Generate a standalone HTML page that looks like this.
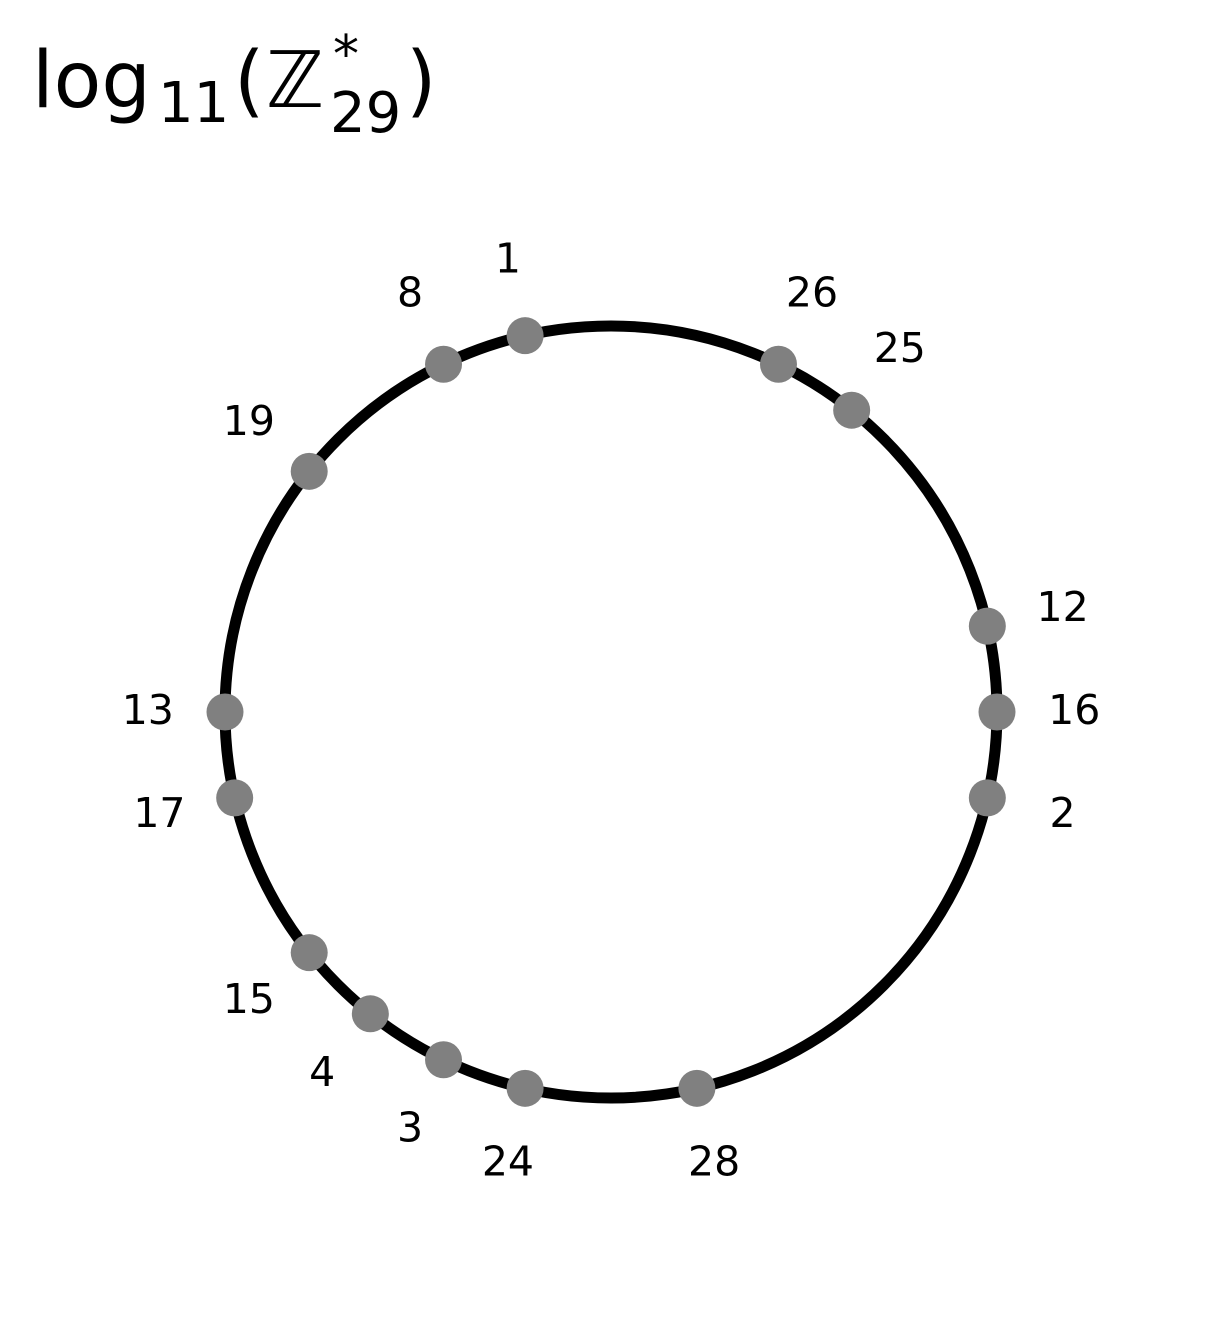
<!DOCTYPE html>
<html><head><meta charset="utf-8"><style>
html,body{margin:0;padding:0;background:#fff;width:1222px;height:1320px;overflow:hidden}
svg text{font-family:"DejaVu Sans","Liberation Sans",sans-serif;fill:#000}
</style></head><body>
<svg id="chart" width="1222" height="1320" viewBox="0 0 1222 1320">
<g>
<text x="32" y="107" font-size="78">log</text>
<text x="158" y="122" font-size="56">11</text>
<text x="234" y="107" font-size="78">(</text>
<text x="266" y="107" font-size="78" font-style="italic">ℤ</text>
<text x="333" y="72" font-size="52">*</text>
<text x="330" y="132" font-size="56">29</text>
<text x="406" y="107" font-size="78">)</text>
</g>
<circle cx="611" cy="712" r="386" fill="none" stroke="#000" stroke-width="11"/>
<g id="points"></g>
</svg>
<script>
const labels = [16, 12, 25, 26, 1, 8, 19, 13, 17, 15, 4, 3, 24, 28, 2];
const steps = [0, 1, 4, 5, 8, 9, 11, 14, 15, 17, 18, 19, 20, 22, 27];
const order = 28;
const cx = 611, cy = 712, R = 386;
const g = document.getElementById('points');
const ns = 'http://www.w3.org/2000/svg';
function px(step, r){ const a = step*2*Math.PI/order; return [cx + r*Math.cos(a), cy - r*Math.sin(a)]; }
labels.forEach((lab, i) => {
  const [x, y] = px(steps[i], R);
  const c = document.createElementNS(ns, 'circle');
  
  
  c.setAttribute('cx', x); c.setAttribute('cy', y); c.setAttribute('r', 18.5);
  c.setAttribute('fill', '#808080');
  g.appendChild(c);
  const [tx, ty] = px(steps[i], R*1.2);
  const t = document.createElementNS(ns, 'text');
  
  
  t.setAttribute('x', tx); t.setAttribute('y', ty + 12);
  t.setAttribute('text-anchor', 'middle');
  t.setAttribute('font-size', '41');
  t.textContent = lab;
  g.appendChild(t);
});
</script>
</body></html>
